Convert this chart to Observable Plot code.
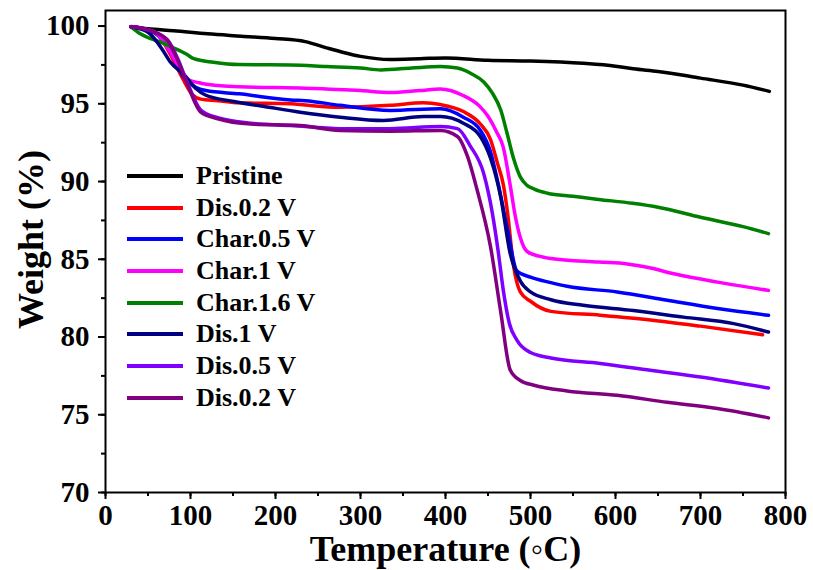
<!DOCTYPE html>
<html><head><meta charset="utf-8">
<script src="https://cdn.jsdelivr.net/npm/d3@7"></script>
<script src="https://cdn.jsdelivr.net/npm/@observablehq/plot@0.6"></script>
<style>
body{margin:0;background:#fff;}
#wrap{position:relative;width:813px;height:570px;}
#wrap svg text{font-weight:bold;font-family:"Liberation Serif",serif;}
#legend{position:absolute;left:127px;top:160px;font-family:"Liberation Serif",serif;font-weight:bold;font-size:26px;color:#000;}
.row{display:flex;align-items:center;height:31.7px;white-space:nowrap;}
.sw{width:56px;height:4px;margin-right:13px;}
</style></head>
<body><div id="wrap"><div id="legend"></div></div>
<script>
const seriesNames = ["Pristine","Dis.0.2 V","Char.0.5 V","Char.1 V","Char.1.6 V","Dis.1 V","Dis.0.5 V","Dis.0.2 V"];
const seriesColors = ["#000000","#ff0000","#0000ff","#ff00ff","#008000","#000080","#8000ff","#800080"];
const xTicks = [0,100,200,300,400,500,600,700,800];
const yTicks = [70,75,80,85,90,95,100];

const pristine = [[30,99.95],[50,99.82],[80,99.7],[120,99.5],[160,99.35],[200,99.2],[235,99.0],[260,98.6],[280,98.3],[300,98.05],[335,97.85],[370,97.9],[400,97.95],[450,97.8],[500,97.75],[562,97.6],[600,97.42],[621,97.25],[650,97.08],[700,96.65],[750,96.2],[781,95.8]];
const dis02a = [[30,99.95],[50,99.75],[62,99.4],[78,98.0],[91,96.6],[102,95.6],[112,95.3],[132,95.2],[157,95.06],[218,95.0],[235,94.92],[276,94.78],[335,94.9],[374,95.06],[394,94.95],[421,94.5],[441,93.7],[453,92.7],[461,91.2],[468,89.8],[473,88.0],[480,84.6],[488,82.9],[500,82.3],[524,81.65],[582,81.4],[641,81.1],[700,80.7],[773,80.15]];
const char05 = [[30,99.95],[50,99.75],[62,99.4],[79,98.1],[91,96.8],[106,96.07],[118,95.85],[157,95.64],[218,95.25],[235,95.2],[276,94.9],[335,94.57],[394,94.68],[421,94.14],[441,93.3],[453,91.9],[461,90.1],[473,86.9],[484,84.25],[500,83.85],[524,83.5],[543,83.26],[602,82.9],[661,82.36],[720,81.83],[780,81.4]];
const char1 = [[30,99.95],[50,99.75],[60,99.55],[73,98.6],[85,97.5],[96,96.6],[110,96.35],[132,96.17],[157,96.1],[235,96.0],[300,95.85],[335,95.72],[370,95.85],[394,95.95],[420,95.55],[440,94.85],[450,94.2],[460,93.2],[468,92.2],[476,89.8],[482,87.8],[488,86.4],[496,85.5],[510,85.2],[524,85.05],[580,84.82],[614,84.7],[640,84.45],[670,84.05],[720,83.53],[780,83.0]];
const char16 = [[30,99.95],[41,99.5],[65,98.96],[80,98.6],[95,98.2],[104,97.9],[127,97.67],[157,97.52],[218,97.5],[260,97.4],[300,97.3],[324,97.18],[360,97.3],[394,97.4],[414,97.3],[430,96.95],[445,96.4],[455,95.7],[465,94.6],[472,93.2],[480,91.5],[488,90.3],[495,89.8],[505,89.5],[520,89.25],[550,89.05],[580,88.85],[620,88.6],[650,88.35],[700,87.7],[750,87.1],[780,86.65]];
const dis1 = [[30,99.95],[50,99.6],[68,98.4],[76,97.7],[92,96.9],[106,96.0],[118,95.55],[151,95.15],[190,94.8],[229,94.46],[276,94.14],[327,93.93],[374,94.18],[394,94.18],[421,93.75],[441,92.9],[453,91.5],[465,89.0],[476,85.4],[488,83.6],[500,82.9],[524,82.4],[562,82.04],[621,81.7],[680,81.28],[739,80.86],[780,80.32]];
const dis05 = [[30,99.95],[53,99.7],[73,99.1],[85,97.9],[96,96.4],[112,94.6],[132,94.1],[171,93.75],[218,93.6],[276,93.4],[335,93.4],[394,93.54],[414,93.4],[429,92.3],[445,90.5],[455,88.0],[462,85.5],[468,83.0],[475,80.9],[484,79.8],[500,79.0],[524,78.65],[582,78.3],[641,77.86],[700,77.43],[780,76.72]];
const dis02b = [[30,99.97],[53,99.7],[73,99.07],[85,97.8],[96,96.3],[112,94.46],[132,94.04],[171,93.7],[229,93.6],[276,93.28],[335,93.24],[394,93.28],[414,92.9],[426,91.6],[437,89.5],[453,85.8],[465,81.6],[476,77.9],[488,77.2],[504,76.9],[543,76.53],[602,76.25],[661,75.8],[720,75.4],[780,74.8]];

const seriesData = [pristine, dis02a, char05, char1, char16, dis1, dis05, dis02b];

const xMinor = d3.range(0, 801, 50);
const yMinor = d3.range(70, 101, 2.5);

const chart = Plot.plot({
  width: 813, height: 570,
  marginLeft: 105, marginRight: 28, marginTop: 10, marginBottom: 78,
  style: {fontFamily: "'Liberation Serif', serif", fontWeight: "bold", background: "white", color: "#000"},
  x: {domain: [0, 800]},
  y: {domain: [70, 101]},
  marks: [
    Plot.axisX({ticks: xMinor, tickSize: 4, text: null, label: null, strokeWidth: 2}),
    Plot.axisX({ticks: xTicks, tickSize: 7, tickPadding: 5, tickFormat: d3.format("d"), label: null, strokeWidth: 2, fontSize: 29}),
    Plot.axisY({ticks: yMinor, tickSize: 4, text: null, label: null, strokeWidth: 2}),
    Plot.axisY({ticks: yTicks, tickSize: 7, tickPadding: 9, tickFormat: d3.format("d"), label: null, strokeWidth: 2, fontSize: 29}),
    Plot.frame({strokeWidth: 2, stroke: "#000"}),
    ...seriesData.map((data, i) => Plot.line(data, {x: d => d[0], y: d => d[1], stroke: seriesColors[i], strokeWidth: 3.5, curve: "monotone-x"})),
    Plot.text(["Temperature (\u25E6C)"], {text: d => d, frameAnchor: "bottom", dy: 68, fontSize: 36, fontWeight: "bold"}),
    Plot.text(["Weight (%)"], {text: d => d, frameAnchor: "left", textAnchor: "middle", rotate: -90, dx: -74, dy: -12, fontSize: 36, fontWeight: "bold"})
  ]
});
document.getElementById("wrap").prepend(chart);

const legend = document.getElementById("legend");
seriesNames.forEach((name, i) => {
  const row = document.createElement("div");
  row.className = "row";
  const sw = document.createElement("div");
  sw.className = "sw";
  sw.style.background = seriesColors[i];
  const t = document.createElement("span");
  t.textContent = name;
  row.append(sw, t);
  legend.append(row);
});
</script></body></html>
